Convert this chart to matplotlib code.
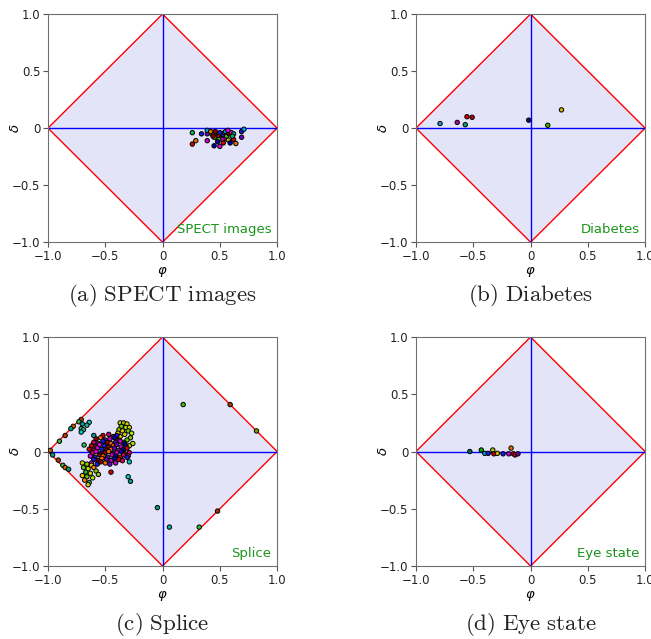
import numpy as np
import matplotlib.pyplot as plt
from matplotlib.patches import Polygon

# phi / delta coordinates for each data set
spect_phi = [0.26, 0.26, 0.29, 0.34, 0.39, 0.39, 0.39, 0.43, 0.45, 0.46, 0.45, 0.50, 0.47, 0.49,
             0.51, 0.53, 0.54, 0.55, 0.55, 0.56, 0.575, 0.58, 0.59, 0.60, 0.62, 0.62, 0.64, 0.69,
             0.69, 0.71, 0.52, 0.49, 0.45, 0.44, 0.48, 0.57, 0.61, 0.53, 0.42, 0.50]
spect_delta = [-0.04, -0.14, -0.11, -0.05, -0.05, -0.02, -0.11, -0.05, -0.05, -0.03, -0.155, -0.16,
               -0.08, -0.07, -0.09, -0.06, -0.04, -0.03, -0.09, -0.07, -0.105, -0.05, -0.13, -0.04,
               -0.05, -0.10, -0.135, -0.03, -0.08, -0.01, -0.10, -0.10, -0.08, -0.07, -0.12, -0.02,
               -0.07, -0.13, -0.03, -0.04]

diab_phi = [-0.79, -0.64, -0.57, -0.555, -0.51, -0.016, 0.15, 0.27]
diab_delta = [0.04, 0.05, 0.03, 0.10, 0.095, 0.07, 0.025, 0.16]
diab_colors = ['#1f8fd0', '#b000b0', '#00a080', '#d40000', '#c00020', '#101080', '#40b000', '#c8b400']

eye_phi = [-0.53, -0.43, -0.40, -0.37, -0.33, -0.32, -0.29, -0.24, -0.19, -0.17, -0.15, -0.135, -0.11]
eye_delta = [0.0, 0.013, -0.016, -0.016, 0.013, -0.02, -0.016, -0.02, -0.02, 0.03, -0.02, -0.03, -0.02]
eye_colors = ['#006060', '#00b000', '#00a0d0', '#1a1adc', '#b4c800', '#d40000', '#c8b400',
              '#1a1adc', '#cc00cc', '#e07000', '#d40000', '#c00020', '#7000b0']

# splice, grouped by region of the plane
splice_edge_phi = [-0.71, -0.73, -0.78, -0.80, -0.85, -0.90, -0.98, -0.96, -0.91, -0.87, -0.85, -0.82]
splice_edge_delta = [0.28, 0.26, 0.22, 0.20, 0.14, 0.09, 0.01, -0.03, -0.075, -0.12, -0.14, -0.155]

splice_ul_phi = [-0.64, -0.70, -0.71, -0.69, -0.71, -0.60, -0.685, -0.66]
splice_ul_delta = [0.255, 0.24, 0.20, 0.19, 0.17, 0.14, 0.057, 0.23]

splice_ur_phi = [-0.37, -0.34, -0.31, -0.36, -0.32, -0.29, -0.38, -0.35, -0.30, -0.27, -0.33, -0.28,
                 -0.37, -0.31, -0.26, -0.29, -0.34, -0.39]
splice_ur_delta = [0.25, 0.25, 0.24, 0.22, 0.21, 0.21, 0.19, 0.18, 0.18, 0.16, 0.15, 0.12,
                   0.13, 0.10, 0.07, 0.05, 0.08, 0.16]

splice_core_phi = [-0.52, -0.47, -0.43, -0.40,
                   -0.58, -0.54, -0.50, -0.46, -0.42, -0.38,
                   -0.60, -0.56, -0.52, -0.48, -0.45, -0.41, -0.37, -0.33,
                   -0.62, -0.58, -0.55, -0.51, -0.47, -0.43, -0.40, -0.36, -0.32,
                   -0.64, -0.60, -0.57, -0.53, -0.49, -0.45, -0.42, -0.38, -0.34, -0.31,
                   -0.61, -0.58, -0.54, -0.50, -0.47, -0.43, -0.40, -0.36, -0.33, -0.29,
                   -0.63, -0.59, -0.55, -0.52, -0.48, -0.44, -0.41, -0.37, -0.34, -0.30,
                   -0.60, -0.56, -0.53, -0.49, -0.45, -0.42, -0.38, -0.35,
                   -0.62, -0.57, -0.54, -0.50, -0.46, -0.41]
splice_core_delta = [0.14, 0.15, 0.13, 0.14,
                     0.11, 0.12, 0.10, 0.11, 0.12, 0.10,
                     0.08, 0.07, 0.09, 0.08, 0.07, 0.08, 0.09, 0.07,
                     0.05, 0.04, 0.06, 0.05, 0.04, 0.05, 0.06, 0.04, 0.05,
                     0.02, 0.01, 0.03, 0.02, 0.01, 0.02, 0.03, 0.01, 0.02, 0.03,
                     -0.01, 0.00, -0.02, -0.01, 0.00, -0.02, -0.01, 0.00, -0.02, -0.01,
                     -0.04, -0.05, -0.03, -0.04, -0.05, -0.03, -0.04, -0.05, -0.03, -0.04,
                     -0.07, -0.08, -0.06, -0.07, -0.08, -0.06, -0.07, -0.08,
                     -0.10, -0.11, -0.09, -0.10, -0.11, -0.10]

splice_ll_phi = [-0.70, -0.66, -0.62, -0.69, -0.65, -0.60, -0.67, -0.63, -0.58, -0.70, -0.66, -0.61,
                 -0.68, -0.64, -0.65, -0.56]
splice_ll_delta = [-0.10, -0.11, -0.12, -0.14, -0.15, -0.14, -0.18, -0.19, -0.17, -0.21, -0.22, -0.23,
                   -0.25, -0.27, -0.29, -0.20]

splice_far_phi = [-0.45, -0.30, -0.28, -0.29, -0.31, 0.18, 0.59, 0.82, -0.045, 0.06, 0.32, 0.48]
splice_far_delta = [-0.18, -0.22, -0.26, -0.09, -0.05, 0.41, 0.41, 0.18, -0.49, -0.66, -0.66, -0.52]

warm = ['#d40000', '#cc0066', '#e000e0', '#1a1adc', '#8b0000', '#ff6600', '#6600cc', '#cc00cc', '#0000aa']
yellowgreen = ['#c8d400', '#8cc800', '#e6c800', '#64c800', '#b4e600']
edge = ['#b43c00', '#3cb43c', '#c86400', '#00a080']
cool = ['#00c8c8', '#00a0a0', '#30c060', '#20b0a0']
far = ['#d40000', '#00c8c8', '#00a0a0', '#00c8c8', '#1a1adc', '#40c000', '#a04000', '#80a000',
       '#00a080', '#00b0b0', '#30c030', '#a03000']
spect_palette = ['#00b060', '#d40000', '#e07000', '#1a1adc', '#6600cc', '#00a0d0', '#cc00cc',
                 '#40c000', '#c8b400', '#8b0000', '#0000aa', '#e000e0']


def cycle(palette, n):
    return [palette[i % len(palette)] for i in range(n)]


def draw_panel(ax, phi, delta, colors, name):
    # lavender diamond with red borders, blue cross through the origin
    ax.add_patch(Polygon([(-1, 0), (0, 1), (1, 0), (0, -1)], closed=True,
                         facecolor='#e4e4f8', edgecolor='red', lw=1.0, zorder=1))
    ax.plot([-1, 1], [0, 0], color='blue', lw=1.0, zorder=2)
    ax.plot([0, 0], [-1, 1], color='blue', lw=1.0, zorder=2)
    ax.scatter(phi, delta, s=10, c=colors, edgecolors='black', linewidths=0.7, zorder=3)
    ax.set_xlim(-1, 1)
    ax.set_ylim(-1, 1)
    ticks = [-1.0, -0.5, 0, 0.5, 1.0]
    labels = ['\u22121.0', '\u22120.5', '0', '0.5', '1.0']
    ax.set_xticks(ticks)
    ax.set_xticklabels(labels)
    ax.set_yticks(ticks)
    ax.set_yticklabels(labels)
    ax.tick_params(labelsize=8.5, length=3.5, pad=2, color='#555555', labelcolor='#222222')
    for sp in ax.spines.values():
        sp.set_color('#707070')
    ax.set_xlabel(r'$\varphi$', fontsize=9.5)
    ax.set_ylabel(r'$\delta$', fontsize=9.5)
    ax.xaxis.set_label_coords(0.5, -0.10)
    ax.yaxis.set_label_coords(-0.114, 0.5)
    ax.text(0.975, 0.025, name, transform=ax.transAxes, ha='right', va='bottom',
            color='#1a941a', fontsize=9.5)


fig = plt.figure(figsize=(6.51, 6.39), dpi=100)
ax_a = fig.add_axes([0.0737, 0.621, 0.352, 0.357])
ax_b = fig.add_axes([0.639, 0.621, 0.352, 0.357])
ax_c = fig.add_axes([0.0737, 0.1142, 0.352, 0.3584])
ax_d = fig.add_axes([0.639, 0.1142, 0.352, 0.3584])

draw_panel(ax_a, spect_phi, spect_delta, cycle(spect_palette, len(spect_phi)), 'SPECT images')
draw_panel(ax_b, diab_phi, diab_delta, diab_colors, 'Diabetes')

splice_phi = (splice_edge_phi + splice_ul_phi + splice_ur_phi + splice_core_phi
              + splice_ll_phi + splice_far_phi)
splice_delta = (splice_edge_delta + splice_ul_delta + splice_ur_delta + splice_core_delta
                + splice_ll_delta + splice_far_delta)
splice_colors = (cycle(edge, len(splice_edge_phi)) + cycle(cool, len(splice_ul_phi))
                 + cycle(yellowgreen, len(splice_ur_phi)) + cycle(warm, len(splice_core_phi))
                 + cycle(yellowgreen + ['#ff8000', '#30b030'], len(splice_ll_phi))
                 + far)
draw_panel(ax_c, splice_phi, splice_delta, splice_colors, 'Splice')
draw_panel(ax_d, eye_phi, eye_delta, eye_colors, 'Eye state')

# captions under each panel, set in Computer Modern
captions = [(0.249, 0.537, '(a)\\ SPECT\\ images'), (0.815, 0.537, '(b)\\ Diabetes'),
            (0.249, 0.022, '(c)\\ Splice'), (0.815, 0.022, '(d)\\ Eye\\ state')]
for x, y, t in captions:
    fig.text(x, y, '$\\mathrm{' + t + '}$', ha='center', va='center', fontsize=16.5,
             color='#222222', math_fontfamily='cm')

fig.savefig('out.png', dpi=100)
plt.close(fig)
